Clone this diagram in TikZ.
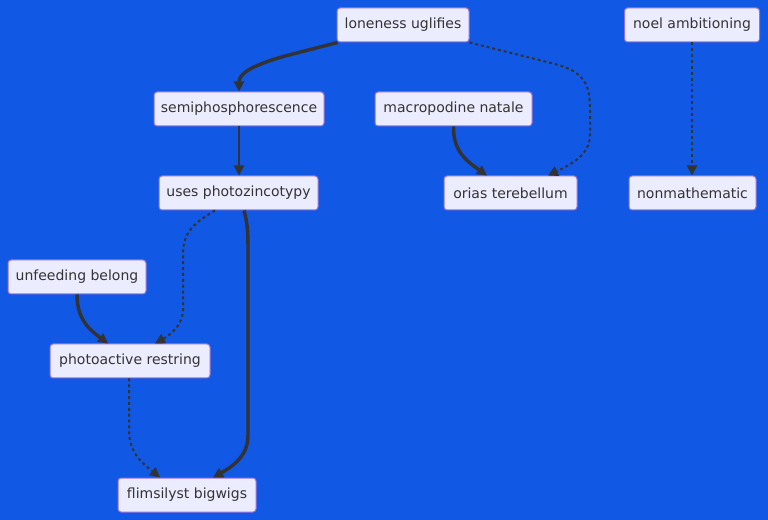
\documentclass[tikz,border=0pt]{standalone}
\usepackage{fontspec}
\setmainfont{DejaVu Sans}
\usetikzlibrary{arrows.meta,calc}
\definecolor{bg}{HTML}{1158E4}
\definecolor{nodefill}{HTML}{ECECFF}
\definecolor{nodeline}{HTML}{9370DB}
\definecolor{ink}{HTML}{333333}
\tikzset{
  box/.style={draw=nodeline, fill=nodefill, line width=0.75pt, rounded corners=2.25pt,
    minimum height=25.5pt, inner sep=0pt, text=ink, font=\fontsize{10.5pt}{12pt}\selectfont},
  edge/.style={draw=ink, line width=1.5pt, -{Triangle[length=7.5pt,width=7.5pt]}},
  thickedge/.style={draw=ink, line width=2.6pt, -{Triangle[length=7.5pt,width=7.5pt]}},
  dotedge/.style={draw=ink, line width=1.5pt, dash pattern=on 2.2pt off 2.2pt, -{Triangle[length=7.5pt,width=7.5pt]}},
}
\begin{document}
\begin{tikzpicture}[x=0.75pt,y=-0.75pt]
\fill[bg] (0,0) rectangle (768,520);
\useasboundingbox (0,0) rectangle (768,520);
\node[box, minimum width=99pt] (lon) at (403,25) {loneness uglifies};
\node[box, minimum width=101.25pt] (noel) at (692,25) {noel ambitioning};
\node[box, minimum width=127.5pt] (semi) at (239,109) {semiphosphorescence};
\node[box, minimum width=117.75pt] (macro) at (453.5,109) {macropodine natale};
\node[box, minimum width=119.25pt] (uses) at (238.5,193) {uses photozincotypy};
\node[box, minimum width=99.75pt] (orias) at (510.5,193) {orias terebellum};
\node[box, minimum width=95.25pt] (nonm) at (692.5,193) {nonmathematic};
\node[box, minimum width=103.5pt] (unfe) at (77,277) {unfeeding belong};
\node[box, minimum width=120pt] (photo) at (130,361) {photoactive restring};
\node[box, minimum width=103.5pt] (flim) at (187,495) {flimsilyst bigwigs};

% loneness -> semiphosphorescence
\draw[thickedge] ($(lon.south west)+(1,0)$) -- (285,56) .. controls (250,66) and (239,74) .. (semi.north);
% loneness -> orias (dotted)
\draw[dotedge] (lon.south east) -- (555,64) .. controls (585,72) and (590,85) .. (590,110) -- (590,135) .. controls (590,155) and (570,165) .. ($(orias.north)+(37.5,0)$);
% semiphosphorescence -> uses
\draw[edge] (semi.south) -- (semi.south |- uses.north);
% macropodine -> orias
\draw[thickedge] (macro.south) .. controls (453,150) and (465,160) .. ($(orias.north)+(-23.5,0)$);
% noel -> nonmathematic (dotted)
\draw[dotedge] (noel.south) -- (noel.south |- nonm.north);
% uses -> photoactive (dotted)
\draw[dotedge] ($(uses.south)+(-23.5,0)$) .. controls (190,225) and (183,235) .. (183,255) -- (183,310) .. controls (183,325) and (170,335) .. ($(photo.north)+(25,0)$);
% uses -> flimsilyst
\draw[thickedge] ($(uses.south)+(5.5,0)$) .. controls (248,225) and (248,235) .. (248,250) -- (248,435) .. controls (248,455) and (235,465) .. ($(flim.north)+(26,0)$);
% unfeeding -> photoactive
\draw[thickedge] (unfe.south) .. controls (77,320) and (90,330) .. ($(photo.north)+(-22,0)$);
% photoactive -> flimsilyst (dotted)
\draw[dotedge] ($(photo.south)+(-1,0)$) -- (129,430) .. controls (129,455) and (145,465) .. ($(flim.north)+(-27,0)$);
\end{tikzpicture}
\end{document}
